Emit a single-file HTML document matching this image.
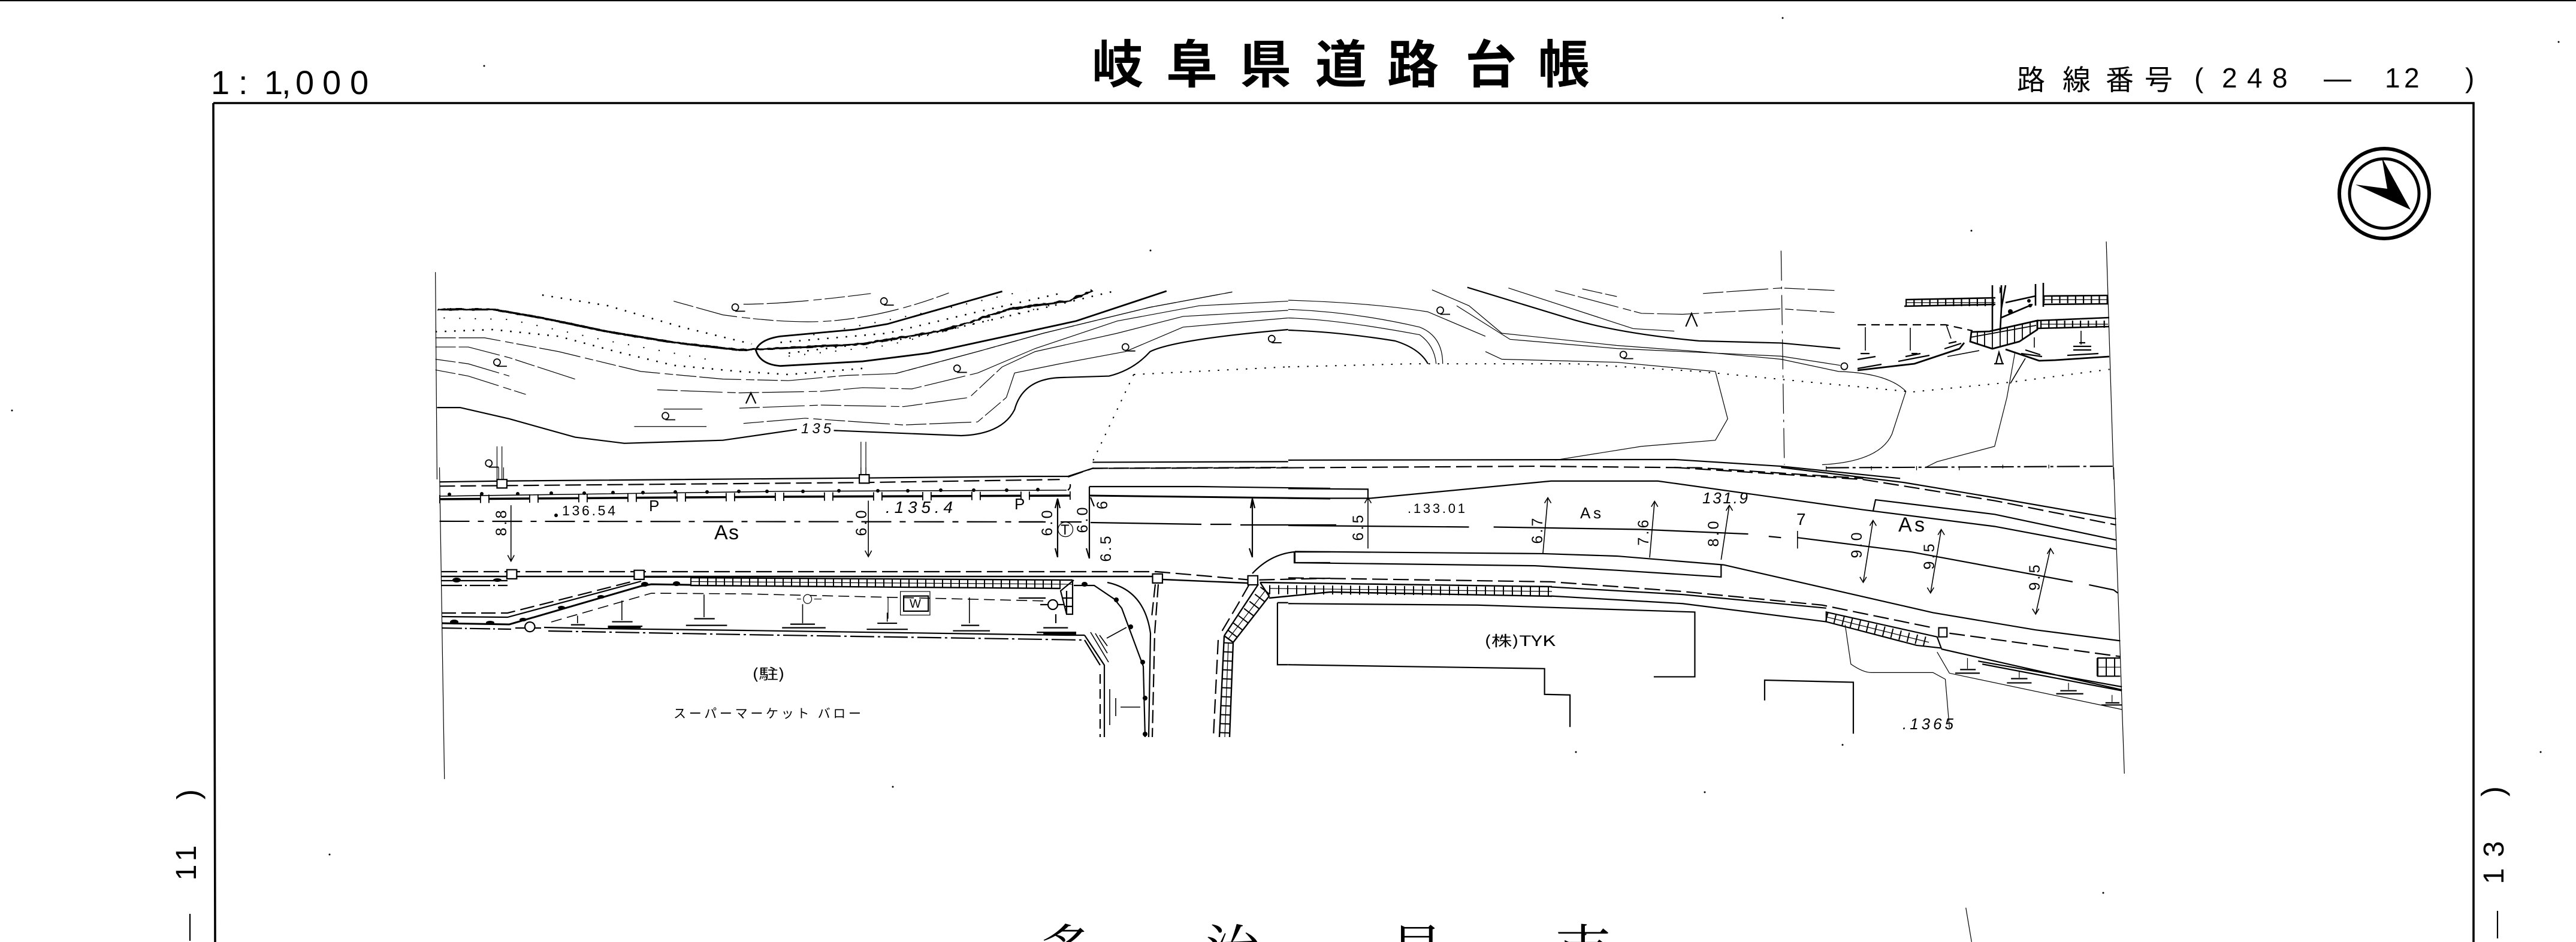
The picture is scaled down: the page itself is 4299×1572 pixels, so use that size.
<!DOCTYPE html>
<html lang="ja"><head><meta charset="utf-8"><title>岐阜県道路台帳</title>
<style>
html,body{margin:0;padding:0;background:#fff;width:4299px;height:1572px;overflow:hidden}
svg{display:block}
path,line,ellipse,rect,polyline,polygon{vector-effect:non-scaling-stroke;fill:none;stroke:#000}
.t{stroke-width:1.2}.m{stroke-width:2.2}.h{stroke-width:3.6}
.tb{stroke-width:1.2;stroke-dasharray:34 5 70 8 14 5}
.da{stroke-dasharray:26 9}.dd{stroke-width:2.6;stroke-dasharray:2.6 13}.dc{stroke-dasharray:50 10 4 10}.ds{stroke-dasharray:9 7}
.f{fill:#000;stroke:none}.w{fill:#fff}
text{fill:#000;stroke:none;font-family:"Liberation Sans","Noto Sans CJK JP",sans-serif}
.jp{font-family:"Noto Sans CJK JP","Liberation Sans",sans-serif}
.rot{font-size:25px;text-anchor:middle}
</style></head><body>
<svg width="4299" height="1572" viewBox="0 0 4299 1572" xmlns="http://www.w3.org/2000/svg">
<defs><filter id="wig" x="-2%" y="-20%" width="104%" height="140%"><feTurbulence type="fractalNoise" baseFrequency="0.14" numOctaves="1" seed="4"/><feDisplacementMap in="SourceGraphic" scale="7"/></filter></defs>
<rect x="0" y="0" width="4299" height="1572" style="fill:#fff;stroke:none"/>
<line x1="0" y1="1" x2="4299" y2="1" class="m"/>
<path d="M356 172H4128V1572M356 172L359 1572" style="stroke-width:3.6"/>

<!-- Q1 -->
<g transform="scale(1.371,.5102)">
<line x1="530" y1="890" x2="532" y2="1568" class="t"/>
<path class="h" filter="url(#wig)" d="M532 1012L600 1012L660 1040L740 1085L820 1120L900 1145L945 1140L1050 1125L1150 1080L1230 1010L1300 985L1330 950"/>
<path class="m" style="stroke-width:2.8" d="M1220 953L1080 1060L1040 1078L950 1100Q925 1110 920 1145Q925 1192 950 1197L1050 1182L1130 1155L1310 1050L1420 952"/>
<path class="dd" d="M660 965L740 1000L830 1070L915 1125M530 1085L600 1078L680 1100L750 1150L820 1195L900 1215L960 1225L1050 1205M950 1120L1080 1090L1190 1020L1290 960M960 1155L1110 1105L1250 1020L1360 950"/>
<path class="dd" style="stroke-width:2;stroke-dasharray:2 24" d="M990 1095L1150 1010L1250 950M540 1040L620 1045L740 1115L860 1175M960 1165L1080 1130L1200 1050L1300 985"/>
<path class="dd" style="stroke-width:2" d="M1380 1225L1568 1200M1380 1225L1330 1510"/>
<path class="tb" d="M905 995Q960 995 1060 960M820 985L880 1030Q960 1060 1010 1050Q1080 1035 1155 958M530 1105H590L680 1150L780 1215L880 1240L960 1245L1030 1228L1090 1222L1190 1150L1270 1090L1400 1005L1500 955"/>
<path class="t" d="M1090 1222L1190 1150L1270 1090L1400 1005L1500 955"/>
<path class="tb" d="M530 1135H570L620 1170L700 1240M800 1275L900 1285L1000 1280L1050 1268L1110 1272L1190 1220"/>
<path class="t" d="M1190 1220L1260 1140L1360 1050L1460 1000L1568 985"/>
<path class="tb" d="M530 1175L570 1190L620 1230M900 1335L1000 1325L1100 1330L1180 1300L1220 1200"/>
<path class="t" d="M1220 1200L1260 1150L1360 1090L1440 1035L1568 1015"/>
<path class="tb" d="M530 1210L570 1230L640 1290M905 1385L980 1368L1100 1390L1190 1380L1225 1300"/>
<path class="t" d="M1225 1300L1235 1220L1290 1190L1370 1150L1440 1070L1568 1040"/>
<path class="m" d="M532 1333H560L620 1370L700 1430L760 1450L880 1440L970 1405M1015 1408L1170 1425Q1220 1420 1235 1340Q1245 1240 1290 1235L1350 1230Q1380 1210 1400 1150Q1430 1110 1568 1078"/>
<path class="m" d="M1330 1512L1568 1510"/><path class="m da" d="M1300 1560L1330 1532L1568 1530"/>
<path class="t" d="M605 1460V1568M611 1460V1568M1048 1445V1555M1054 1445V1555M808 1338H855M772 1395H860"/>
<g class="m" style="stroke-width:1.8"><ellipse cx="895" cy="1005" rx="4" ry="11"/><ellipse cx="1076" cy="985" rx="4" ry="11"/><ellipse cx="605" cy="1185" rx="4" ry="11"/><ellipse cx="1165" cy="1205" rx="4" ry="11"/><ellipse cx="1370" cy="1135" rx="4" ry="11"/><ellipse cx="1548" cy="1108" rx="4" ry="11"/><ellipse cx="810" cy="1360" rx="4" ry="11"/><ellipse cx="595" cy="1515" rx="4" ry="11"/></g>
<path class="t" style="stroke-width:1.8" d="M895 1018h12M1076 998h12M605 1198h12M1165 1218h12M1370 1148h12M1548 1121h12M810 1373h12M595 1528h12"/>
<path class="m" d="M908 1320L914 1285L920 1320"/>
</g>

<!-- Q2 -->
<g transform="translate(2150,0) scale(1.3706,.5102)">
<path class="t" d="M0 982Q100 990 170 1020L240 1100M0 1012Q80 1020 160 1070Q188 1100 188 1190M0 1040Q60 1045 160 1095Q178 1130 180 1190"/>
<path class="m" d="M0 1080Q60 1085 130 1115Q160 1140 170 1190M218 940L340 1040Q400 1090 500 1115L600 1122L672 1140"/>
<path class="t" d="M175 948L220 1000L260 1090L400 1130L500 1150L600 1175L670 1215Q730 1220 752 1280L735 1420Q720 1510 650 1520"/>
<path class="t" d="M268 942L420 1075L470 1083M205 1000L270 1110L400 1140L600 1165L672 1195"/>
<path class="tb" d="M325 950L430 1025L480 1028L600 1010L665 1022M358 945L400 970M505 960L600 942L665 950"/>
<path class="t" d="M240 1150L260 1175L400 1185L520 1215L535 1370L520 1440L430 1460L325 1505M885 1150L875 1300L860 1460L790 1510L775 1530"/>
<path class="dd" style="stroke-width:2" d="M0 1200L150 1190L350 1190L500 1215L760 1282L880 1250L1000 1208"/>
<path class="t dc" d="M600 820L604 1520"/>
<line x1="996" y1="790" x2="1005" y2="1568" class="t"/>
<path class="m" d="M0 1505L470 1503L600 1525L745 1565"/><path class="m da" d="M0 1530L300 1525L500 1530L700 1565"/>
<path class="m" style="stroke-dasharray:38 6 5 6" d="M655 1530L1005 1525"/>
<path class="t" d="M655 1525V1538M710 1525V1538M765 1525V1538M817 1525V1538M870 1520V1532M926 1520V1532"/>
<g class="m" style="stroke-width:1.8"><ellipse cx="185" cy="1015" rx="4" ry="11"/><ellipse cx="408" cy="1160" rx="4" ry="11"/><ellipse cx="677" cy="1198" rx="4" ry="11"/></g>
<path class="t" style="stroke-width:1.8" d="M185 1028h12M408 1173h12"/>
<path class="m" d="M484 1068L491 1025L498 1068"/>
</g>

<!-- upper right detail, px coords -->
<g>
<path class="m" style="stroke-width:2.6" d="M3180 500L3330 497M3178 511L3330 508M3410 494L3518 493M3410 508L3518 507M3400 535L3520 530M3400 548L3520 545M3347 505L3397 494M3340 530L3392 508"/>
<path class="m" style="stroke-width:12;stroke-dasharray:2.2 11" d="M3180 505H3330M3410 500H3518M3405 541H3518"/>
<path class="t" d="M3180 505H3330M3410 500H3518M3405 541H3518"/>
<path class="m" style="stroke-width:2.6" d="M3325 476V552M3340 476V515M3340 515L3338 552M3347 476L3340 515M3397 474V510M3410 472V512"/>
<polygon class="m" style="stroke-width:2.8" points="3290,554 3320,553 3400,535 3400,550 3370,570 3325,582 3288,570"/>
<path class="m" style="stroke-width:1.8" d="M3288 563L3398 543M3300 553V575M3312 553V578M3325 553V582M3338 550V580M3350 545V575M3362 542V572M3375 540V566M3388 537V558"/>
<path class="m ds" style="stroke-dasharray:14 9" d="M3100 542H3247L3292 552"/>
<path class="t" style="stroke-width:1.6" d="M3113 546V585M3188 547V585M3248 542L3256 565M3395 563V580M3473 552V575M3250 595L3303 585M3380 598L3355 640"/>
<path class="m" d="M3105 590H3120M3100 600L3130 595M3100 615L3140 608M3190 590H3200M3180 595L3205 590M3168 603L3220 593M3252 573L3265 570M3245 582L3273 573M3380 584L3405 592M3373 590L3408 595M3460 578H3490M3470 572H3480M3450 593L3502 590M3460 584H3490"/>
<path class="m" style="stroke-width:2.8" d="M3100 618L3195 607L3270 582L3278 572M3347 583L3403 602L3430 601L3520 595"/>
<path class="m" d="M3331 607L3336 588L3342 607M3328 607H3344"/>
<circle cx="3386" cy="502" r="3" class="f"/><circle cx="3355" cy="520" r="4" class="f"/><circle cx="3388" cy="510" r="3" class="f"/>
<path class="f" style="stroke:none" d="M3337 478L3341 485L3337 490Z"/>
</g>

<circle cx="3979" cy="323" r="75" style="fill:none;stroke:#000;stroke-width:6"/>
<circle cx="3979" cy="323" r="58" style="fill:none;stroke:#000;stroke-width:5"/>
<polygon class="f" points="3975,263 4023,350 3931,308 3984,315"/>

<!-- px road detail, left/centre -->
<g>
<path class="t" style="stroke-width:1.6" d="M733 828L1300 820L1780 818"/>
<path class="m" d="M1782 818Q1787 815 1786 808"/>
<path class="h" style="stroke-dasharray:68 14" d="M733 833L1300 829L1787 827"/>
<path style="stroke-width:14;stroke-dasharray:1.8 66.2 1.8 12.2" d="M733 833L1300 829L1787 827"/>
<g class="f">
<circle cx="750" cy="825" r="3"/><circle cx="804" cy="824" r="3"/><circle cx="864" cy="824" r="3"/><circle cx="920" cy="823" r="3"/><circle cx="975" cy="823" r="3"/><circle cx="1023" cy="822" r="3"/><circle cx="1073" cy="822" r="3"/><circle cx="1127" cy="821" r="3"/><circle cx="1180" cy="821" r="3"/><circle cx="1233" cy="820" r="3"/><circle cx="1280" cy="820" r="3"/><circle cx="1340" cy="820" r="3"/><circle cx="1400" cy="819" r="3"/><circle cx="1465" cy="819" r="3"/><circle cx="1515" cy="819" r="3"/><circle cx="1570" cy="818" r="3"/><circle cx="1625" cy="818" r="3"/><circle cx="1680" cy="818" r="3"/><circle cx="1732" cy="817" r="3"/>
</g>
<!-- lower road -->
<path class="m da" d="M737 954H1930L2089 968L2220 965"/>
<path class="m" style="stroke-width:2.4" d="M737 962H1923M1940 967L2082 973"/>
<path class="m" d="M737 969H847"/>
<path class="m" style="stroke-dasharray:34 5 3 5" d="M737 977H847"/>
<ellipse cx="762" cy="968" rx="7" ry="4" class="f"/><ellipse cx="830" cy="968" rx="7" ry="3" class="f"/>
<ellipse cx="758" cy="1038" rx="7" ry="4" class="f"/><ellipse cx="818" cy="1039" rx="7" ry="3" class="f"/>
<ellipse cx="873" cy="1034" rx="6" ry="3" class="f"/><ellipse cx="937" cy="1014" rx="6" ry="3" class="f"/><ellipse cx="1003" cy="996" rx="6" ry="3" class="f"/><ellipse cx="1076" cy="975" rx="6" ry="4" class="f"/><ellipse cx="1129" cy="974" rx="6" ry="4" class="f"/><ellipse cx="1810" cy="975" rx="5" ry="4" class="f"/>
<path class="m da" style="stroke-dasharray:24 9" d="M737 1023H847L1057 970"/>
<path class="m" d="M737 1029L847 1030L1070 970"/>
<path class="h" style="stroke-width:3" d="M737 1040L850 1042L1070 978L1087 975L1152 976"/>
<path class="m" d="M1073 963H1152"/>
<path class="m" style="stroke-dasharray:34 5 3 5" d="M737 1048L853 1050"/>
<path class="m" d="M860 1048H876M892 1048H903M908 1047L1003 1049L1240 1052L1780 1060L1810 1060"/>
<path class="m" style="stroke-dasharray:40 6 4 6" d="M915 1053L1240 1059L1805 1068"/>
<path class="t ds" style="stroke-width:1.6;stroke-dasharray:18 9" d="M920 1038L1087 990L1240 991L1750 1003"/>
<!-- band along supermarket -->
<path class="m" style="stroke-width:2.4" d="M1152 964L1790 968M1152 977L1770 982"/>
<path class="m" style="stroke-width:13;stroke-dasharray:2 12" d="M1152 970.5L1770 975"/>
<path class="t" d="M1152 970.5L1790 975"/>
<!-- ladder -->
<path class="m" d="M1792 968L1770 986L1780 1025H1790V968M1773 998H1790M1776 1012H1790M1780 986V1025"/>
<ellipse cx="1757" cy="1009" rx="8" ry="8" class="m" style="fill:#fff"/>
<path class="m" d="M1736 1009H1749M1765 1009H1775M1700 998H1745M1762 1025V1040"/>
<!-- right hand curve -->
<path class="m" d="M1792 977H1826L1860 1000L1872 1015L1908 1112L1911 1230"/>
<circle cx="1810" cy="975" r="3" class="f"/><circle cx="1863" cy="1001" r="4" class="f"/><circle cx="1887" cy="1046" r="4" class="f"/><circle cx="1907" cy="1105" r="4" class="f"/><circle cx="1911" cy="1165" r="4" class="f"/><circle cx="1911" cy="1225" r="4" class="f"/>
<path class="m" d="M1848 972Q1910 985 1920 1057L1917 1230"/>
<path class="m ds" style="stroke-dasharray:22 8" d="M1928 975L1922 1030M1933 975L1927 1057L1923 1230"/>
<path class="m" d="M1810 1060L1843 1110V1230M1810 1068L1836 1110"/>
<path class="m ds" style="stroke-dasharray:16 9" d="M1836 1125V1230"/>
<path class="t" style="stroke-width:1.6" d="M1820 1055L1850 1105M1828 1057L1848 1090M1835 1060L1848 1078M1847 1065L1880 1047M1852 1150V1210M1862 1165V1195M1870 1180H1903"/>
<!-- right hatch -->
<path class="m ds" style="stroke-dasharray:24 9" d="M2085 975L2065 1010L2037 1057M2033 1068L2025 1230"/>
<path class="m" style="stroke-width:2.4" d="M2043 1061L2100 975M2058 1072L2118 995L2103 972M2043 1061L2058 1072M2043 1061L2035 1230M2058 1072L2052 1230"/>
<path class="m" style="stroke-width:20;stroke-dasharray:2 13" d="M2112 985L2050 1066"/>
<path class="t" d="M2112 985L2050 1066"/>
<path class="m" style="stroke-width:17;stroke-dasharray:2 13" d="M2050 1072L2043 1230"/>
<path class="t" d="M2050 1072L2044 1230"/>
<path class="m" style="stroke-width:2.4" d="M2103 972L2590 979M2118 998L2220 988L2590 995"/>
<path class="m" style="stroke-width:15;stroke-dasharray:2 13" d="M2118 984L2590 987"/>
<path class="t" d="M2118 982L2590 987"/>
<!-- centre road additions -->
<path class="m" d="M1818 812H2000L2220 815M1818 812V932M1813 915L1818 932M1820 830L1826 845"/>
<path class="h" style="stroke-width:3" d="M1818 827L2220 832"/>
<path class="m" d="M1700 795H1782L1825 781"/>
<path class="m" d="M1765 832V930M1761 915L1765 930M1761 848L1765 832L1769 848"/>
<path class="m" d="M1820 872L2005 875M2020 875H2055M2070 876H2230"/>
<path class="m" d="M1770 871H1805M1700 871H1745"/>
<path class="m" d="M2090 832V930M2085 915L2090 930M2087 848L2090 832L2094 848"/>
<path class="m" d="M2090 957Q2120 925 2160 921H2220M2160 921V939H2220"/>
</g>

<!-- Q3 -->
<g transform="translate(0,780) scale(1.371,.505)">
<line x1="535" y1="0" x2="541" y2="1030" class="t"/>
<path class="m" d="M535 48L610 45L1050 35L1240 30"/>
<path class="m da" d="M535 62L1050 50L1290 40"/><path class="m da" d="M1330 3L1568 0"/>
<path class="m" style="stroke-dasharray:50 14 10 14" d="M535 178L1270 180"/>
<path class="t" style="stroke-width:1.6" d="M622 125V310M618 290L622 310L626 290M1057 110V295M1053 275L1057 295L1061 275"/>
<g class="m"><rect x="617" y="338" width="12" height="30" style="fill:#fff"/><rect x="772" y="340" width="12" height="30" style="fill:#fff"/><rect x="1403" y="352" width="12" height="30" style="fill:#fff"/><rect x="1519" y="358" width="12" height="30" style="fill:#fff"/><rect x="605" y="40" width="12" height="28" style="fill:#fff"/><rect x="1046" y="24" width="12" height="28" style="fill:#fff"/></g>
<path class="t" d="M607 0V40M613 0V40M1048 0V24M1054 0V24"/>
<g class="t"><ellipse cx="645" cy="527" rx="6" ry="16" class="m" style="fill:#fff"/><ellipse cx="983" cy="435" rx="5" ry="15" style="fill:#fff"/><ellipse cx="1297" cy="205" rx="9" ry="24" style="fill:#fff"/></g>
<path class="t" d="M970 435H975M991 435H1000"/>
<rect x="1100" y="425" width="30" height="50" class="m"/><path class="t" d="M1096 410H1132V488H1096Z M1081 430V500"/>
<path class="t" style="stroke-width:1.6" d="M703 490V515M757 440V505M857 420V495M977 452V515M1080 480V510M1180 430V515"/>
<path class="m" d="M695 520H712M745 510H770M740 525H782M845 500H870M835 522H885M962 518H992M952 530H1005M1068 515H1092M1055 535H1105M1170 522H1192M1160 540H1205M1270 530H1300M1262 545H1310"/>
<path class="m" style="stroke-width:4" d="M740 528H780M1270 550H1310"/>
<path class="m" d="M1555 447V652H1568M1555 447H1568"/>
</g>

<!-- Q4 -->
<g transform="translate(2150,780) scale(1.3706,.505)">
<line x1="1005" y1="0" x2="1018" y2="1012" class="t"/>
<path class="m" d="M0 450L230 455L495 478V692H445M0 652L312 665V750L343 752V858M580 770V703L688 710V880"/>
<path class="m" d="M8 278L310 285L400 293L530 322L785 480L910 537L1013 573M8 278V315L300 325L400 340L527 362V322"/>
<path class="m" d="M0 102H100L320 45H450L700 140L860 195L1008 270M0 70L97 72V102"/>
<path class="m" d="M600 0L750 50L860 100L1008 170M712 145L715 107L860 155L1008 240"/>
<path class="m da" d="M470 0L700 40L860 110L1008 190"/>
<path class="m" d="M0 192L220 197M250 197L430 205L560 220M585 228L600 232M620 232L760 280L955 378M975 388L1005 405L1010 415"/>
<path class="t" style="stroke-width:1.6" d="M97 100V268M316 100L310 285M446 112L440 298M537 125L527 305M712 175L700 380M795 205L782 415M928 268L910 485M620 210V268M93 118L97 100L101 118M312 118L316 100L320 118M442 130L446 112L450 130M533 143L537 125L541 143M708 193L712 175L716 193M791 223L795 205L799 223M924 286L928 268L932 286M906 467L910 485L914 467M778 397L782 415L786 397M696 362L700 380L704 362"/>
<path class="m da" d="M0 365L320 378L480 410L650 455L785 530M805 548L1013 625"/>
<path class="m" d="M320 395L480 420L655 465M320 425L480 450L655 510"/>
<polygon class="m" points="655,478 790,560 795,597 765,588 655,510"/>
<path class="m" style="stroke-width:16;stroke-dasharray:2 12" d="M655 494L780 578"/>
<path class="t" d="M655 494L780 578"/>
<rect x="792" y="530" width="10" height="30" class="m" style="fill:#fff"/>
<path class="m" d="M795 600L1015 735M840 640L1015 725M845 650L1015 738"/>
<path class="t" d="M790 610L805 680L1015 800M678 520L685 650Q700 678 710 678H785L800 700L805 860"/>
<path class="m" d="M985 630H1013M985 690H1013M985 630V690"/>
<path class="m" style="stroke-width:30;stroke-dasharray:2 12" d="M985 660H1013"/>
<path class="t" d="M985 660H1013"/>
<path class="t" d="M827 630V665M890 672V695M950 712V735M1003 752V775"/>
<path class="m" d="M818 668H837M812 680H842M880 698H900M875 712H905M940 738H960M935 748H968M995 778H1012M990 785H1015"/>
<path class="t" d="M825 1455L832 1568"/>
</g>

<!-- specks -->
<g class="f"><circle cx="808" cy="110" r="1.5"/><circle cx="1920" cy="418" r="1.5"/><circle cx="20" cy="685" r="1.5"/><circle cx="2975" cy="30" r="1.5"/><circle cx="4270" cy="70" r="1.5"/><circle cx="3290" cy="385" r="1.5"/><circle cx="550" cy="1426" r="1.5"/><circle cx="1490" cy="1313" r="1.5"/><circle cx="2845" cy="1322" r="1.5"/><circle cx="2630" cy="1255" r="1.5"/><circle cx="3510" cy="1490" r="1.5"/><circle cx="4240" cy="1255" r="1.5"/><circle cx="3075" cy="1243" r="1.5"/></g>

<!-- Title & headers -->
<text class="jp" font-weight="700" font-size="86" x="1822 1946 2069 2195 2315 2445 2567" y="138">岐阜県道路台帳</text>
<text font-size="56" x="352 398 441 470 493 538 584" y="157" style="font-family:'Liberation Sans',sans-serif">1:1,000</text>
<text class="jp" font-size="47" x="3366 3442 3514 3579" y="150">路線番号</text>
<text font-size="46" x="3662 3708 3750 3792" y="146">(248</text>
<text font-size="46" x="3878" y="146">—</text>
<text font-size="46" x="3980 4012" y="146">12</text>
<text font-size="46" x="4114" y="146">)</text>

<!-- Map labels -->
<circle cx="928" cy="860" r="3" class="f"/>
<text font-size="23" x="938" y="860" textLength="89" lengthAdjust="spacing">136.54</text>
<text font-size="26" x="1083" y="853">P</text>
<text font-size="34" x="1192" y="900" textLength="41">As</text>
<text font-size="28" font-style="italic" x="1478" y="856" textLength="112">.135.4</text>
<text font-size="26" x="1693" y="850">P</text>
<text font-size="24" font-style="italic" x="1337" y="723" textLength="50">135</text>
<text font-size="24" x="1770" y="892">T</text>
<text font-size="20" x="1518" y="1014">W</text>
<text class="jp" font-size="24" x="1255" y="1133" textLength="55" lengthAdjust="spacingAndGlyphs">(駐)</text>
<text class="jp" font-size="21" x="1124" y="1198" textLength="313">スーパーマーケット バロー</text>
<text font-size="22" x="2349" y="856" textLength="96">.133.01</text>
<text font-size="26" x="2637" y="865" textLength="35">As</text>
<text font-size="26" font-style="italic" x="2841" y="840" textLength="76">131.9</text>
<text font-size="28" x="2998" y="876">7</text>
<text font-size="34" x="3168" y="887" textLength="44">As</text>
<text class="jp" font-size="24" x="2477" y="1078" textLength="119" lengthAdjust="spacingAndGlyphs">(株)TYK</text>
<text font-size="26" font-style="italic" x="3175" y="1217" textLength="85">.1365</text>
<g>
<text class="rot" transform="translate(845,873) rotate(-90)" textLength="43">8.8</text>
<text class="rot" transform="translate(1446,873) rotate(-90)" textLength="43">6.0</text>
<text class="rot" transform="translate(1756,873) rotate(-90)" textLength="43">6.0</text>
<text class="rot" transform="translate(1815,868) rotate(-90)" textLength="43">6.0</text>
<text class="rot" transform="translate(1848,843) rotate(-90)">6</text>
<text class="rot" transform="translate(1854,916) rotate(-90)" textLength="43">6.5</text>
<text class="rot" transform="translate(2275,881) rotate(-90)" textLength="43">6.5</text>
<text class="rot" transform="translate(2574,886) rotate(-90)" textLength="43">6.7</text>
<text class="rot" transform="translate(2751,889) rotate(-90)" textLength="43">7.6</text>
<text class="rot" transform="translate(2868,891) rotate(-90)" textLength="43">8.0</text>
<text class="rot" transform="translate(3107,910) rotate(-90)" textLength="43">9.0</text>
<text class="rot" transform="translate(3228,929) rotate(-90)" textLength="43">9.5</text>
<text class="rot" transform="translate(3404,964) rotate(-90)" textLength="43">9.5</text>
</g>

<!-- bottom place name -->
<text style="font-family:'Noto Serif CJK SC','Noto Sans CJK JP',serif" font-size="92" x="1735 2012 2318 2596" y="1619">多治見市</text>

<!-- side page marks -->
<text font-size="52" transform="translate(305,1317) rotate(90)">(</text>
<text font-size="48" text-anchor="middle" transform="translate(327,1424) rotate(-90)">1</text>
<text font-size="48" text-anchor="middle" transform="translate(327,1456) rotate(-90)">1</text>
<line x1="317" y1="1525" x2="317" y2="1570" class="m"/>
<text font-size="52" transform="translate(4151,1312) rotate(90)">(</text>
<text font-size="48" text-anchor="middle" transform="translate(4178,1417) rotate(-90)">3</text>
<text font-size="48" text-anchor="middle" transform="translate(4178,1462) rotate(-90)">1</text>
<line x1="4168" y1="1520" x2="4168" y2="1566" class="m"/>
</svg>
</body></html>
